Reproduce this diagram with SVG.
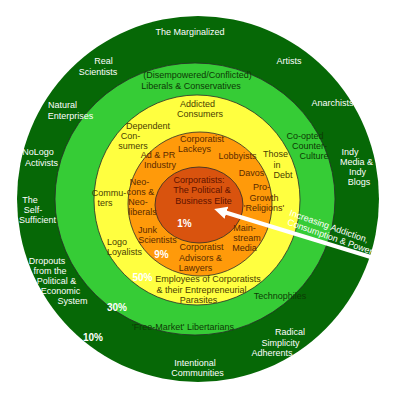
<svg xmlns="http://www.w3.org/2000/svg" width="396" height="399" viewBox="0 0 396 399">
<style>
text{font-family:"Liberation Sans",Arial,sans-serif;font-size:9px;text-anchor:middle}
.w{fill:#ffffff}
.g{fill:#0d3a05}
.y{fill:#4a4000}
.o{fill:#5a2a00}
.r{fill:#5e1200}
.p{fill:#ffffff;font-weight:bold;font-size:10px}
.ring{stroke:#2a2a2a;stroke-width:0.8}
</style>
<defs>
<marker id="ah" viewBox="0 0 10 10" refX="2" refY="5" markerWidth="3.2" markerHeight="3.2" orient="auto-start-reverse" markerUnits="strokeWidth">
<path d="M0,0 L10,5 L0,10 Z" fill="#ffffff"/>
</marker>
</defs>
<rect width="396" height="399" fill="#ffffff"/>
<g id="ring-10">
<ellipse cx="198" cy="199" rx="181" ry="183" fill="#066806"/>
</g>
<g id="ring-30">
<ellipse class="ring" cx="195" cy="199" rx="140" ry="136" fill="#36cc36"/>
</g>
<g id="ring-50">
<ellipse class="ring" cx="197" cy="200" rx="103" ry="105" fill="#ffff40"/>
</g>
<g id="ring-9">
<ellipse class="ring" cx="200" cy="204" rx="72" ry="72" fill="#ff9a0a"/>
</g>
<g id="ring-1">
<ellipse class="ring" cx="199" cy="205" rx="44" ry="38" fill="#d9530e"/>
</g>
<g id="connectors">
<line x1="374" y1="258" x2="224" y2="212" stroke="#ffffff" stroke-width="4" marker-end="url(#ah)"/>
</g>
<g id="arrow-label" class="w">
<text transform="translate(328,229) rotate(19.5)" class="w">Increasing Addiction,</text>
<text transform="translate(329,239.5) rotate(19.5)" class="w">Consumption &amp; Power</text>
</g>
<g id="marginalized-labels" class="w">
<text x="190" y="35">The Marginalized</text>
<text x="103.5" y="64">Real</text><text x="98" y="75">Scientists</text>
<text x="289" y="64">Artists</text>
<text x="62.5" y="108">Natural</text><text x="70.5" y="119">Enterprises</text>
<text x="332.5" y="106">Anarchists</text>
<text x="38" y="155">NoLogo</text><text x="41.5" y="166">Activists</text>
<text x="350" y="155">Indy</text><text x="356.5" y="165">Media &amp;</text><text x="357.5" y="175">Indy</text><text x="359" y="185">Blogs</text>
<text x="30" y="203">The</text><text x="33" y="213">Self-</text><text x="37.5" y="223">Sufficient</text>
<text x="47" y="264">Dropouts</text><text x="50" y="274">from the</text><text x="56.5" y="284">Political &amp;</text><text x="60.5" y="294">Economic</text><text x="72.5" y="304">System</text>
<text x="195" y="366">Intentional</text><text x="197.5" y="376">Communities</text>
<text x="290" y="335">Radical</text><text x="280.5" y="346">Simplicity</text><text x="272" y="356">Adherents</text>
</g>
<g id="disempowered-labels" class="g">
<text x="197.5" y="78">(Disempowered/Conflicted)</text><text x="191" y="89">Liberals &amp; Conservatives</text>
<text x="305" y="139">Co-opted</text><text x="309.5" y="149">Counter-</text><text x="314" y="159">Culture</text>
<text x="280" y="299">Technophiles</text>
<text x="183" y="330">'Free-Market' Libertarians</text>
</g>
<g id="consumer-labels" class="y">
<text x="197.5" y="107">Addicted</text><text x="200" y="117">Consumers</text>
<text x="148" y="129">Dependent</text><text x="130.5" y="139">Con-</text><text x="133" y="149">sumers</text>
<text x="275.5" y="157">Those</text><text x="277" y="168">in</text><text x="283" y="178">Debt</text>
<text x="109" y="196">Commu-</text><text x="105" y="206">ters</text>
<text x="117" y="245">Logo</text><text x="124.5" y="255">Loyalists</text>
<text x="208" y="282">Employees of Corporatists</text><text x="201.5" y="293">&amp; their Entrepreneurial</text><text x="198.5" y="303">Parasites</text>
</g>
<g id="corporatist-labels" class="o">
<text x="202" y="142">Corporatist</text><text x="194.5" y="152">Lackeys</text>
<text x="158" y="158">Ad &amp; PR</text><text x="160" y="168">Industry</text>
<text x="237.5" y="159">Lobbyists</text>
<text x="251.5" y="176">Davos</text>
<text x="261.5" y="190">Pro-</text><text x="264" y="201">Growth</text><text x="264" y="211">'Religions'</text>
<text x="139.5" y="185">Neo-</text><text x="140.5" y="195">cons &amp;</text><text x="138" y="205">Neo-</text><text x="142.5" y="215">liberals</text>
<text x="147.5" y="233">Junk</text><text x="157.5" y="243">Scientists</text>
<text x="244.5" y="231">Main-</text><text x="247" y="241">stream</text><text x="244.5" y="251">Media</text>
<text x="201.5" y="250">Corporatist</text><text x="200.5" y="261">Advisors &amp;</text><text x="195.5" y="271">Lawyers</text>
</g>
<g id="elite-labels" class="r">
<text x="199" y="183">Corporatists:</text><text x="202" y="193">The Political &amp;</text><text x="203.5" y="204">Business Elite</text>
</g>
<g id="percentages">
<text class="p" x="93" y="341">10%</text>
<text class="p" x="117" y="311">30%</text>
<text class="p" x="142.5" y="281">50%</text>
<text class="p" x="161.5" y="258">9%</text>
<text class="p" x="184.5" y="227">1%</text>
</g>
</svg>
